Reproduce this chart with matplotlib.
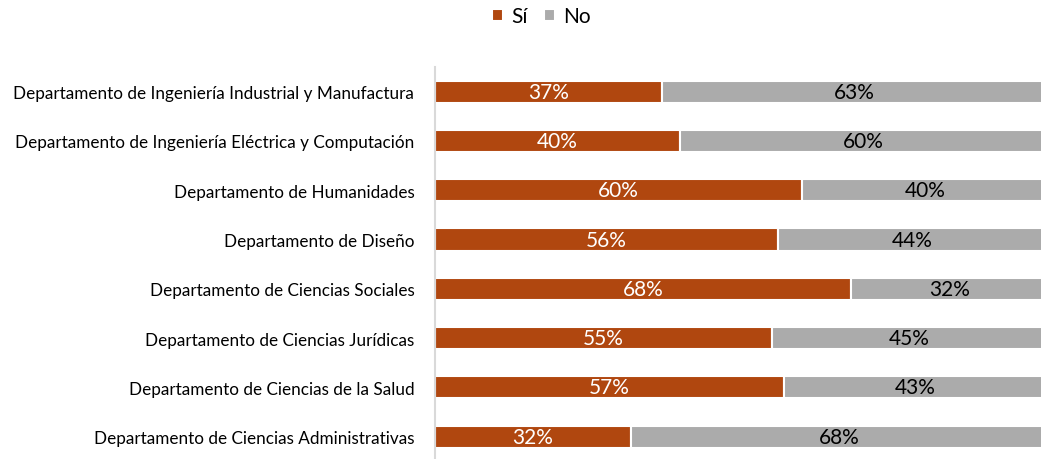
import matplotlib.pyplot as plt

departamentos = [
    "Departamento de Ingeniería Industrial y Manufactura",
    "Departamento de Ingeniería Eléctrica y Computación",
    "Departamento de Humanidades",
    "Departamento de Diseño",
    "Departamento de Ciencias Sociales",
    "Departamento de Ciencias Jurídicas",
    "Departamento de Ciencias de la Salud",
    "Departamento de Ciencias Administrativas",
]
si = [37, 40, 60, 56, 68, 55, 57, 32]
no = [63, 60, 40, 44, 32, 45, 43, 68]

c_si = "#B0470F"
c_no = "#ABABAB"

plt.rcParams["font.family"] = ["Lato", "DejaVu Sans"]

fig = plt.figure(figsize=(10.41, 4.6), dpi=100)
ax = fig.add_axes([0.418, -0.005, 0.588, 0.857])

y = list(range(len(departamentos)))[::-1]
h = 0.45
ax.barh(y, si, height=h, color=c_si, edgecolor="white", linewidth=1.5, label="Sí")
ax.barh(y, no, left=si, height=h, color=c_no, edgecolor="white", linewidth=1.5, label="No")

for yi, s, n in zip(y, si, no):
    ax.text(s / 2, yi, f"{s}%", ha="center", va="center", color="white", fontsize=15)
    ax.text(s + n / 2, yi, f"{n}%", ha="center", va="center", color="black", fontsize=15)

ax.set_xlim(0, 100)
ax.set_ylim(-0.5, 7.5)
ax.set_yticks(y)
ax.set_yticklabels(departamentos, fontsize=12.3)
ax.tick_params(axis="y", length=0, pad=15)
ax.set_xticks([])
for s in ["top", "right", "bottom"]:
    ax.spines[s].set_visible(False)
ax.spines["left"].set_color("#D9D9D9")
ax.spines["left"].set_linewidth(1.5)

fig.legend(loc="upper center", bbox_to_anchor=(0.52, 1.025), ncol=2, frameon=False,
           fontsize=15, handlelength=0.5, handleheight=0.5, handletextpad=0.4,
           columnspacing=0.8)

fig.savefig("out.png", dpi=100)
